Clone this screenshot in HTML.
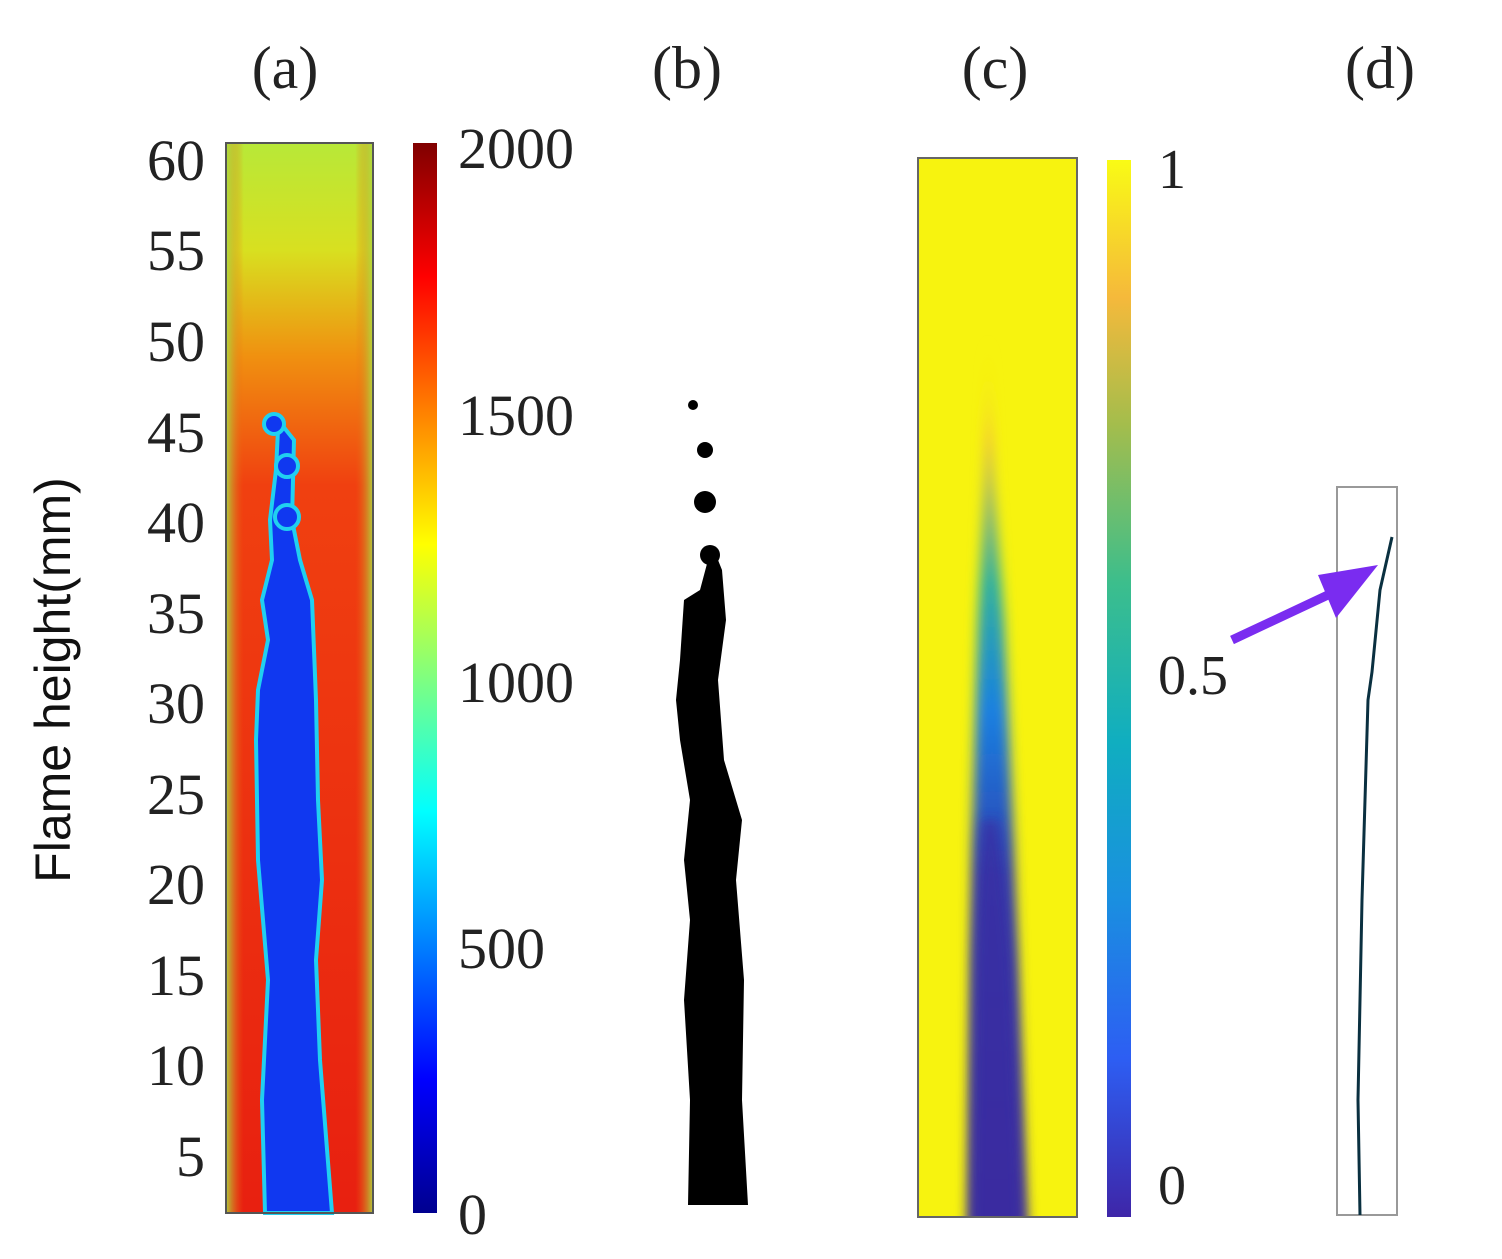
<!DOCTYPE html>
<html><head><meta charset="utf-8"><style>
html,body{margin:0;padding:0;background:#fff;}
svg{display:block;}
text{font-family:"Liberation Serif",serif;fill:#222;}
</style></head><body>
<svg width="1502" height="1259" viewBox="0 0 1502 1259" xmlns="http://www.w3.org/2000/svg">
<defs>
<linearGradient id="jet" x1="0" y1="1" x2="0" y2="0">
<stop offset="0" stop-color="#00008f"/><stop offset="0.125" stop-color="#0000ff"/>
<stop offset="0.375" stop-color="#00ffff"/><stop offset="0.625" stop-color="#ffff00"/>
<stop offset="0.875" stop-color="#ff0000"/><stop offset="1" stop-color="#800000"/>
</linearGradient>
<linearGradient id="parula" x1="0" y1="1" x2="0" y2="0">
<stop offset="0" stop-color="#3e26a8"/><stop offset="0.15" stop-color="#2d5ef3"/>
<stop offset="0.3" stop-color="#1a8fe0"/><stop offset="0.45" stop-color="#10aec0"/>
<stop offset="0.6" stop-color="#3cbe8c"/><stop offset="0.75" stop-color="#a4bd4c"/>
<stop offset="0.87" stop-color="#f5b93b"/><stop offset="1" stop-color="#f9fb15"/>
</linearGradient>
<linearGradient id="abg" x1="0" y1="0" x2="0" y2="1">
<stop offset="0" stop-color="#b8e838"/><stop offset="0.1" stop-color="#d8e020"/>
<stop offset="0.2" stop-color="#f09010"/><stop offset="0.32" stop-color="#f04010"/>
<stop offset="1" stop-color="#e82010"/>
</linearGradient>
<linearGradient id="aedge" x1="0" y1="0" x2="1" y2="0">
<stop offset="0" stop-color="#a8e040" stop-opacity="0.9"/><stop offset="0.12" stop-color="#f06010" stop-opacity="0"/>
<stop offset="0.88" stop-color="#f06010" stop-opacity="0"/><stop offset="1" stop-color="#a8e040" stop-opacity="0.9"/>
</linearGradient>
<linearGradient id="cw" x1="0" y1="0" x2="0" y2="1">
<stop offset="0" stop-color="#f9f510" stop-opacity="0"/><stop offset="0.12" stop-color="#f0c040"/>
<stop offset="0.28" stop-color="#30b0a0"/><stop offset="0.42" stop-color="#1a80e0"/>
<stop offset="0.6" stop-color="#3040b0"/><stop offset="1" stop-color="#3a2ca0"/>
</linearGradient>
<filter id="bl" x="-50%" y="-10%" width="200%" height="120%"><feGaussianBlur stdDeviation="6"/></filter>
<clipPath id="cc"><rect x="918" y="158" width="159" height="1059"/></clipPath>
</defs>

<text x="285" y="88" font-size="60" text-anchor="middle">(a)</text>
<text x="687" y="88" font-size="60" text-anchor="middle">(b)</text>
<text x="995" y="88" font-size="60" text-anchor="middle">(c)</text>
<text x="1380" y="88" font-size="60" text-anchor="middle">(d)</text>

<text transform="translate(70,680) rotate(-90)" font-size="50" text-anchor="middle" style="font-family:'Liberation Sans',sans-serif;fill:#111">Flame height(mm)</text>

<g font-size="58" text-anchor="end">
<text x="205" y="180">60</text><text x="205" y="270">55</text><text x="205" y="361">50</text>
<text x="205" y="452">45</text><text x="205" y="542">40</text><text x="205" y="633">35</text>
<text x="205" y="723">30</text><text x="205" y="814">25</text><text x="205" y="904">20</text>
<text x="205" y="995">15</text><text x="205" y="1085">10</text><text x="205" y="1176">5</text>
</g>

<!-- panel a -->
<rect x="226" y="143" width="147" height="1070" fill="url(#abg)"/>
<rect x="226" y="143" width="147" height="1070" fill="url(#aedge)"/>
<path d="M265,1213 L262,1100 L268,980 L258,860 L256,740 L258,690 L268,640 L262,600 L272,560 L270,520 L276,470 L278,430 L282,425 L294,440 L292,520 L300,560 L312,600 L316,700 L318,800 L322,880 L316,960 L320,1060 L332,1213 Z" fill="#1038f0" stroke="#20d0f0" stroke-width="4"/>
<circle cx="274" cy="424" r="10" fill="#1038f0" stroke="#20d0f0" stroke-width="4"/>
<circle cx="287" cy="466" r="11" fill="#1038f0" stroke="#20d0f0" stroke-width="4"/>
<circle cx="287" cy="517" r="12" fill="#1038f0" stroke="#20d0f0" stroke-width="4"/>
<rect x="226" y="143" width="147" height="1070" fill="none" stroke="#555" stroke-width="2"/>
<rect x="413" y="143" width="24" height="1070" fill="url(#jet)"/>
<g font-size="58">
<text x="458" y="168">2000</text><text x="458" y="435">1500</text><text x="458" y="702">1000</text>
<text x="458" y="968">500</text><text x="458" y="1234">0</text>
</g>

<!-- panel b -->
<path d="M688,1205 L690,1100 L684,1000 L690,920 L684,860 L690,800 L680,740 L676,700 L680,660 L684,600 L700,590 L708,560 L712,545 L722,570 L726,620 L718,680 L724,760 L742,820 L736,880 L744,980 L742,1100 L748,1205 Z" fill="#000"/>
<circle cx="693" cy="405" r="5" fill="#000"/>
<circle cx="705" cy="450" r="8" fill="#000"/>
<circle cx="705" cy="502" r="11" fill="#000"/>
<circle cx="710" cy="555" r="10" fill="#000"/>

<!-- panel c -->
<rect x="918" y="158" width="159" height="1059" fill="#f7f30f"/>
<g clip-path="url(#cc)">
<g filter="url(#bl)">
<path d="M968,1240 L972,850 L978,620 L984,480 L988,330 L994,480 L1004,620 L1014,850 L1027,1240 Z" fill="url(#cw)"/>
</g>
<path d="M970,1240 L974,950 L982,820 L998,820 L1012,950 L1025,1240 Z" fill="#3a2ca0" opacity="0.7" filter="url(#bl)"/>
</g>
<rect x="918" y="158" width="159" height="1059" fill="none" stroke="#666" stroke-width="2"/>
<rect x="1107" y="160" width="24" height="1057" fill="url(#parula)"/>
<g font-size="56">
<text x="1158" y="188">1</text><text x="1158" y="694">0.5</text><text x="1158" y="1204">0</text>
</g>

<!-- panel d -->
<rect x="1337" y="487" width="60" height="728" fill="none" stroke="#999" stroke-width="2"/>
<path d="M1360,1215 L1358,1100 L1362,900 L1368,700 L1372,672 L1380,590 L1392,537" fill="none" stroke="#0a3040" stroke-width="3"/>
<line x1="1232" y1="640" x2="1330" y2="594" stroke="#7a2cf0" stroke-width="9"/>
<polygon points="1378,565 1318,575 1336,618" fill="#7a2cf0"/>
</svg>
</body></html>
